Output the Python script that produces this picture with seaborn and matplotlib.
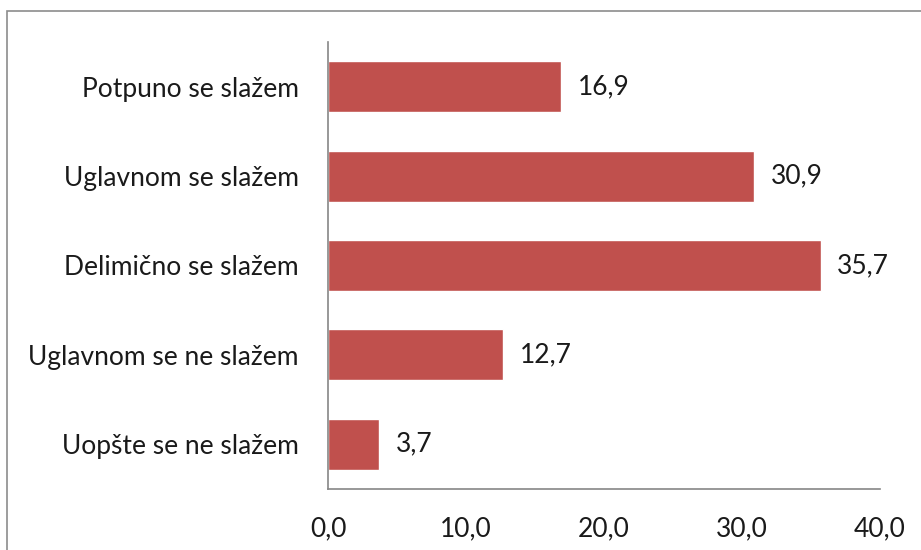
import matplotlib
matplotlib.use("Agg")
import matplotlib.pyplot as plt
import seaborn as sns
import pandas as pd
from matplotlib.patches import Rectangle
from matplotlib.ticker import FuncFormatter

categories = [
    "Potpuno se slažem",
    "Uglavnom se slažem",
    "Delimično se slažem",
    "Uglavnom se ne slažem",
    "Uopšte se ne slažem",
]
values = [16.9, 30.9, 35.7, 12.7, 3.7]
xticks = [0, 10, 20, 30, 40]

BAR = "#C0504D"
AXIS = "#868686"
TEXT = "#1a1a1a"
FS = 19

sns.set_theme(style="white")
plt.rcParams["font.family"] = ["Lato", "DejaVu Sans"]

df = pd.DataFrame({"cat": categories, "val": values})

fig = plt.figure(figsize=(9.21, 5.5), dpi=100)
ax = fig.add_axes([328 / 921, 1 - 489 / 550, (880 - 328) / 921, (489 - 42) / 550])

sns.barplot(data=df, x="val", y="cat", order=categories, color=BAR,
            saturation=1, width=0.57, ax=ax)

for p, v in zip(ax.patches, values):
    y = p.get_y() + p.get_height() / 2
    ax.text(v + 1.2, y, f"{v:.1f}".replace(".", ","), va="center", ha="left",
            fontsize=FS, color=TEXT)

ax.set_xlim(0, 40)
ax.set_xticks(xticks)
ax.xaxis.set_major_formatter(FuncFormatter(lambda x, _: f"{x:.1f}".replace(".", ",")))
ax.set_xlabel("")
ax.set_ylabel("")
ax.tick_params(axis="both", length=0, labelsize=FS, colors=TEXT)
ax.tick_params(axis="x", pad=20)
ax.tick_params(axis="y", pad=21)
for s in ["top", "right"]:
    ax.spines[s].set_visible(False)
for s in ["left", "bottom"]:
    ax.spines[s].set_color(AXIS)
    ax.spines[s].set_linewidth(1.2)

fig.patches.append(Rectangle((7 / 921, -0.1), 1.2, 1 - 11 / 550 + 0.1,
                             transform=fig.transFigure, fill=False,
                             edgecolor="#8c8c8c", linewidth=1.2))

fig.savefig("out.png", dpi=100)
